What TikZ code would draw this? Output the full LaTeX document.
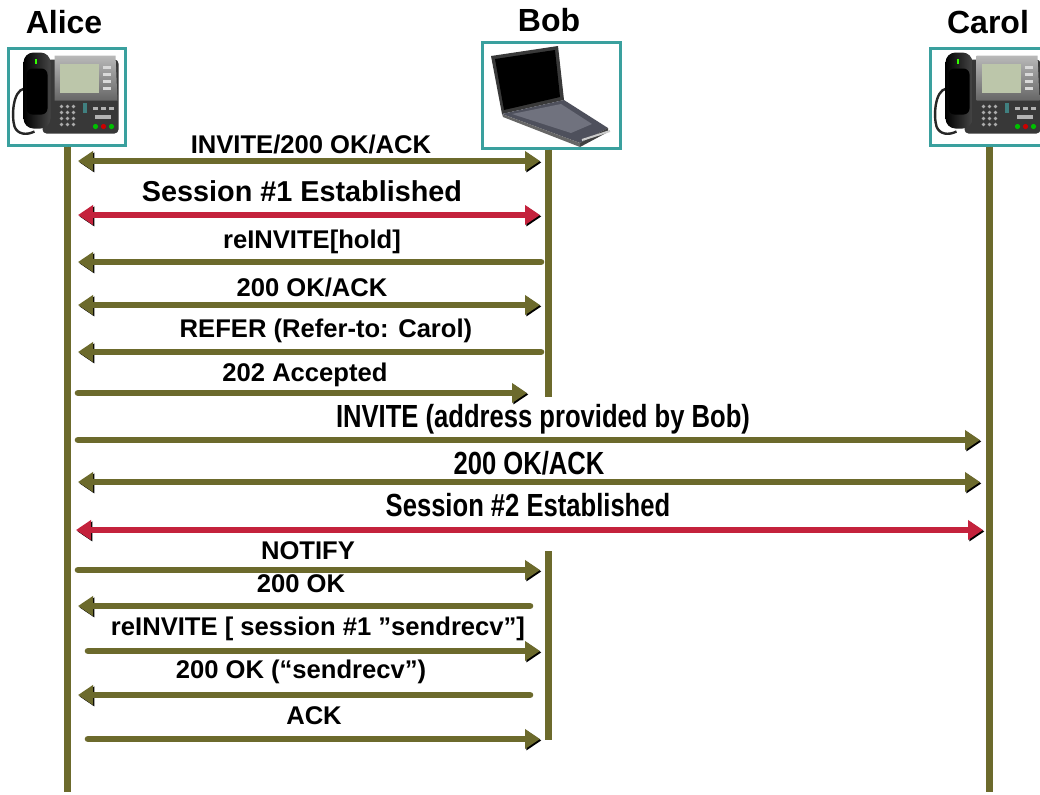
\documentclass[tikz,border=0pt]{standalone}
\usepackage{fontspec}
\setmainfont{Liberation Sans}
\newfontfamily\tallfont[FakeStretch=0.8]{Liberation Sans}
\usetikzlibrary{arrows.meta}

\definecolor{msgolive}{RGB}{108,106,44}
\definecolor{msgred}{RGB}{196,34,60}
\definecolor{boxteal}{RGB}{58,160,158}
\definecolor{lcdgreen}{RGB}{188,198,170}
\definecolor{deckgray}{RGB}{78,80,92}
\definecolor{keysgray}{RGB}{112,114,126}

\tikzset{
	% one unit = one pixel, y downwards
	msg/.style={line width=3.3pt,line cap=round,
		preaction={draw=black,transform canvas={shift={(0.7pt,-0.7pt)}}}},
	olivemsg/.style={msg,draw=msgolive},
	redmsg/.style={msg,draw=msgred},
	fwd/.style={-{Triangle[length=7.5pt,width=9.5pt]}},
	bwd/.style={{Triangle[length=7.5pt,width=9.5pt]}-},
	twoway/.style={{Triangle[length=7.5pt,width=9.5pt]}-{Triangle[length=7.5pt,width=9.5pt]}},
	life/.style={line width=3.5pt,draw=msgolive,
		preaction={draw=black,transform canvas={shift={(0.8pt,0pt)}}}},
	devbox/.style={draw=boxteal,line width=1.5pt,fill=white,inner sep=0pt},
	who/.style={font=\bfseries\fontsize{16}{18}\selectfont,inner sep=0pt},
	msgtext/.style={font=\bfseries\fontsize{12.8}{14}\selectfont,inner sep=0pt},
	bigtext/.style={font=\bfseries\fontsize{14.4}{16}\selectfont,inner sep=0pt},
	talltext/.style={font=\tallfont\bfseries\fontsize{16}{18}\selectfont,inner sep=0pt},
	deskphone/.pic={
		% base and keypad
		\fill[black!78,rounded corners=2pt] (36,13) rectangle (112,87);
		\shade[top color=gray!55,bottom color=gray!80!black] (48,9) -- (109,9) -- (111,54) -- (48,54) -- cycle;
		\fill[lcdgreen] (53,17) rectangle (92,46);
		\foreach \i in {0,1,2}
			\foreach \j in {0,...,3}
				\fill[gray!65] (55+6*\i,60+6*\j) circle (0.9pt);
		\fill[gray!50!teal] (76,56) rectangle (80,66);
		\foreach \j in {0,...,3}
			\fill[gray!30] (96,19+7*\j) rectangle (104,22+7*\j);
		\foreach \i in {0,1,2}
			\fill[gray!60] (86+8*\i,60) rectangle (91+8*\i,63);
		\fill[gray!60] (88,68) rectangle (104,72);
		\fill[green!75!black] (89,80) circle (1.3pt);
		\fill[red!80!black] (97,80) circle (1.3pt);
		\fill[green!75!black] (105,80) circle (1.3pt);
		% cord
		\draw[black!85,line width=1.2pt] (18,42) .. controls (6,44) and (5,70) .. (8,80)
			.. controls (11,88) and (20,89) .. (28,85);
		% handset
		\shade[left color=black,right color=gray!55!black,rounded corners=5pt] (17,6) rectangle (44,82);
		\fill[black,rounded corners=3pt] (20,22) rectangle (41,68);
		\fill[green!80!yellow] (28,12) rectangle (30,17);
	}
}

\begin{document}
\begin{tikzpicture}[x=0.5pt,y=-0.5pt]
	\useasboundingbox (0,0) rectangle (1040,794);
	\clip (0,0) rectangle (1040,794);
	\fill[white] (0,0) rectangle (1040,794);

	% lifelines
	\coordinate (alice end) at (67,792);
	\coordinate (bob cut) at (548,397);
	\coordinate (bob back) at (548,551);
	\coordinate (bob end) at (548,740);
	\coordinate (carol end) at (989,792);

	\node[devbox,minimum width=58.5pt,minimum height=48.5pt] (alice) at (66.5,96.5) {};
	\node[devbox,minimum width=69pt,minimum height=53pt] (bob) at (551,95) {};
	\node[devbox,minimum width=58pt,minimum height=48.5pt] (carol) at (988,96.5) {};

	\draw[life] (alice.south -| alice end) -- (alice end);
	\draw[life] (bob.south -| bob cut) -- (bob cut);
	\draw[life] (bob back) -- (bob end);
	\draw[life] (carol.south -| carol end) -- (carol end);

	% devices
	\pic at (alice.north west) {deskphone};
	\pic at (carol.north west) {deskphone};

	% laptop
	\fill[gray!45!black] (491,56) -- (558,46) -- (564,100) -- (502,114) -- cycle;
	\fill[black] (495,59) -- (555,50) -- (560,97) -- (504,110) -- cycle;
	\fill[deckgray] (502,114) -- (564,100) -- (608,128) -- (580,143) -- cycle;
	\fill[keysgray] (512,114) -- (561,104) -- (592,124) -- (571,133) -- cycle;
	\fill[black!75] (580,143) -- (608,128) -- (608,132) -- (580,147) -- cycle;
	\fill[black!60] (502,114) -- (580,143) -- (580,147) -- (503,117) -- cycle;
	\draw[gray!40,line width=1pt] (582,140) -- (610,131);

	\node[who] (alice name) at (64,22) {Alice};
	\node[who] (bob name) at (549,20) {Bob};
	\node[who] (carol name) at (988,22) {Carol};

	% messages
	\foreach \n/\y/\xa/\xb/\tip/\ink/\ty/\tx/\fnt/\txt in {
		1/161/78/540/twoway/olivemsg/144/311/msgtext/{INVITE/200 OK/ACK},
		2/215/78/540/twoway/redmsg/191/302/bigtext/{Session \#1 Established},
		3/262/78/541/bwd/olivemsg/242/312/msgtext/{reINVITE[hold]},
		4/305/78/540/twoway/olivemsg/287/312/msgtext/{200 OK/ACK},
		5/352/78/541/bwd/olivemsg/331/326/msgtext/{REFER (Refer-to: Carol)},
		6/393/78/527/fwd/olivemsg/375/305/msgtext/{202 Accepted},
		7/440/78/980/fwd/olivemsg/419/543/talltext/{INVITE (address provided by Bob)},
		8/482/78/980/twoway/olivemsg/463/529/talltext/{200 OK/ACK},
		9/530/76/983/twoway/redmsg/505/528/talltext/{Session \#2 Established},
		10/570/78/540/fwd/olivemsg/551/308/msgtext/{NOTIFY},
		11/606/78/530/bwd/olivemsg/584/301/msgtext/{200 OK},
		12/651/88/540/fwd/olivemsg/629/318/msgtext/{reINVITE [ session \#1 ”sendrecv”]},
		13/695/78/530/bwd/olivemsg/672/301/msgtext/{200 OK (“sendrecv”)},
		14/739/88/540/fwd/olivemsg/716/314/msgtext/{ACK}}
	{
		\coordinate (m\n a) at (\xa,\y);
		\coordinate (m\n b) at (\xb,\y);
		\draw[\ink,\tip] (m\n a) -- (m\n b);
		\node[\fnt] (t\n) at (\tx,\ty) {\txt};
	}
\end{tikzpicture}
\end{document}
